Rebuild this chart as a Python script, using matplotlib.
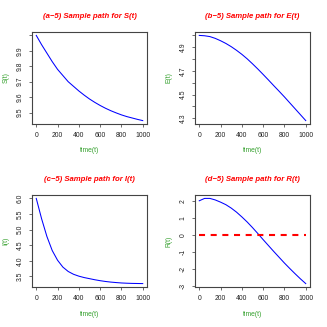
import matplotlib
matplotlib.use("Agg")
import matplotlib.pyplot as plt

plt.rcParams['font.family'] = ['Liberation Sans', 'DejaVu Sans']

# ---- data ----
t = [0, 50, 100, 150, 200, 250, 300, 350, 400, 450, 500,
     550, 600, 650, 700, 750, 800, 850, 900, 950, 1000]

S = [10.0, 9.94, 9.885, 9.83, 9.78, 9.74, 9.70, 9.67, 9.64, 9.613, 9.588,
     9.566, 9.546, 9.528, 9.512, 9.498, 9.485, 9.474, 9.465, 9.456, 9.448]

E = [5.0, 4.997, 4.99, 4.975, 4.955, 4.932, 4.905, 4.874, 4.84, 4.802, 4.76,
     4.716, 4.67, 4.623, 4.575, 4.528, 4.48, 4.43, 4.38, 4.33, 4.28]

I = [6.0, 5.35, 4.78, 4.33, 4.02, 3.80, 3.66, 3.57, 3.51, 3.465, 3.43,
     3.395, 3.365, 3.34, 3.32, 3.305, 3.292, 3.284, 3.278, 3.275, 3.272]

R = [2.0, 2.14, 2.14, 2.05, 1.92, 1.77, 1.57, 1.33, 1.05, 0.75, 0.42,
     0.07, -0.29, -0.64, -0.99, -1.33, -1.67, -1.99, -2.30, -2.60, -2.88]

x_ticks = [0, 200, 400, 600, 800, 1000]
x_ticklabels = ['0', '200', '400', '600', '800', '1000']

S_ticks = [9.5, 9.6, 9.7, 9.8, 9.9, 10.0]
S_ticklabels = ['9.5', '9.6', '9.7', '9.8', '9.9', '']
E_ticks = [4.3, 4.4, 4.5, 4.6, 4.7, 4.8, 4.9, 5.0]
E_ticklabels = ['4.3', '', '4.5', '', '4.7', '', '4.9', '']
I_ticks = [3.5, 4.0, 4.5, 5.0, 5.5, 6.0]
I_ticklabels = ['3.5', '4.0', '4.5', '5.0', '5.5', '6.0']
R_ticks = [-3, -2, -1, 0, 1, 2]
R_ticklabels = ['-3', '-2', '-1', '0', '1', '2']

titles = ['(a\u22125) Sample path for S(t)', '(b\u22125) Sample path for E(t)',
          '(c\u22125) Sample path for I(t)', '(d\u22125) Sample path for R(t)']
ylabels = ['S(t)', 'E(t)', 'I(t)', 'R(t)']
xlabel = 'time(t)'
ref_level = 0

W = 327.0
fig = plt.figure(figsize=(3.27, 3.27), dpi=100)

panels = [(S, S_ticks, S_ticklabels), (E, E_ticks, E_ticklabels),
          (I, I_ticks, I_ticklabels), (R, R_ticks, R_ticklabels)]
offsets = [(0, 0), (163, 0), (0, 163), (163, 163)]

green = '#33a02c'
fs = 4.9
for k, ((y, yt, ytl), (ox, oy)) in enumerate(zip(panels, offsets)):
    left = (ox + 32) / W
    bottom = 1 - (oy + 124) / W
    ax = fig.add_axes([left, bottom, 115 / W, 92 / W])
    ax.plot(t, y, color='blue', lw=0.75)
    if k == 3:
        ax.plot([t[0], t[-1]], [ref_level, ref_level], color='red', lw=1.5,
                ls=(0, (2.9, 2.7)))
    ax.set_xlim(-40, 1040)
    lo, hi = min(y), max(y)
    if k == 3:
        lo = min(lo, ref_level)
    pad = 0.04 * (hi - lo)
    ax.set_ylim(lo - pad, hi + pad)
    ax.set_xticks(x_ticks)
    ax.set_xticklabels(x_ticklabels, fontsize=fs)
    ax.set_yticks(yt)
    ax.set_yticklabels(ytl, fontsize=fs, rotation=90, va='center')
    ax.tick_params(direction='out', length=2.5, width=0.6, pad=3.5, colors='#555555',
                   labelcolor='#222222')
    for sp in ax.spines.values():
        sp.set_linewidth(0.8)
        sp.set_color('#444444')
    ax.set_title(titles[k], fontsize=5.6, color='red', fontweight='bold',
                 fontstyle='italic', pad=10)
    ax.set_xlabel(xlabel, fontsize=fs, color=green)
    ax.xaxis.set_label_coords(0.5, (124 - 151) / 92.0)
    ax.xaxis.label.set_va('center')
    ax.set_ylabel(ylabels[k], fontsize=fs, color=green)
    ax.yaxis.set_label_coords((6 - 32) / 115.0, 0.5)
    ax.yaxis.label.set_va('center')

fig.savefig('out.png', dpi=100)
